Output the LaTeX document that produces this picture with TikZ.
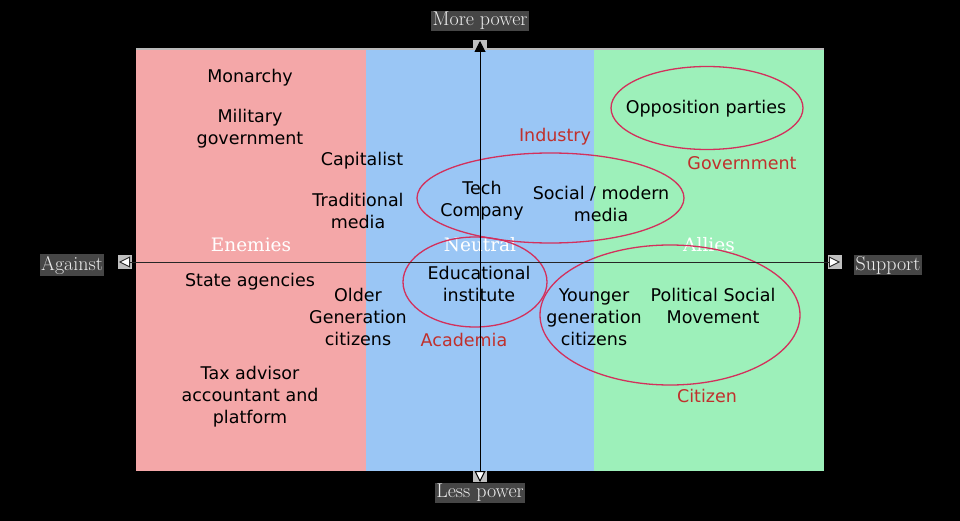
\documentclass[tikz,border=0pt]{standalone}
\usepackage{fontspec}
\newfontfamily\bodyfont{DejaVu Sans}
\newfontfamily\zonefont{DejaVu Serif}
\usetikzlibrary{arrows.meta,shapes.geometric}
\definecolor{pinkbg}{HTML}{F4A7A8}
\definecolor{bluebg}{HTML}{9AC6F5}
\definecolor{greenbg}{HTML}{9DF0BA}
\definecolor{ringc}{HTML}{D3305C}
\definecolor{grpc}{HTML}{C0302C}
\tikzset{
  lbl/.style={font=\bodyfont\fontsize{17.5}{22}\selectfont, align=center, text=black, inner sep=0pt, yshift=-2pt},
  grp/.style={font=\bodyfont\fontsize{17.5}{20}\selectfont, text=grpc, inner sep=0pt, yshift=-1pt},
  side/.style={font=\zonefont\fontsize{18.5}{20}\selectfont, text=white, inner sep=0pt},
  axlbl/.style={font=\rmfamily\fontsize{20}{22}\selectfont, text=gray!15, fill=gray!55!black, inner sep=1.5pt},
  ring/.style={draw=ringc, line width=1.3pt, ellipse, inner sep=0pt},
  tipw/.tip={Triangle[length=11pt,width=11pt,fill=white]},
  tipb/.tip={Triangle[length=11pt,width=11pt,fill=black]},
}
\begin{document}
\begin{tikzpicture}[x=1pt,y=-1pt]
\fill[black] (0,0) rectangle (960,521);
\useasboundingbox (0,0) rectangle (960,521);
\fill[pinkbg] (136,48) rectangle (366,471);
\fill[bluebg] (366,48) rectangle (594,471);
\fill[greenbg] (594,48) rectangle (824,471);
\fill[gray!55] (136,48) rectangle (824,50.5);
% zone labels
\node[side] (enemies) at (251,245) {Enemies};
\node[side] (neutral) at (480,245) {Neutral};
\node[side] (allies) at (709,245) {Allies};
% rings
\node[ring, minimum width=192pt, minimum height=83pt] (ropp) at (707,108) {};
\node[ring, minimum width=267pt, minimum height=90pt] (rind) at (550.5,198) {};
\node[ring, minimum width=144pt, minimum height=90pt] (racad) at (475,282) {};
\node[ring, minimum width=260pt, minimum height=140pt] (rcit) at (670,315) {};
% texts
\node[lbl] (monarchy) at (250,76) {Monarchy};
\node[lbl] (military) at (250,127) {Military\\government};
\node[lbl] (capitalist) at (362,159) {Capitalist};
\node[lbl] (tradmedia) at (358,209) {Traditional\\media};
\node[lbl] (state) at (250,280) {State agencies};
\node[lbl] (older) at (358,315) {Older\\Generation\\citizens};
\node[lbl] (tax) at (250,395) {Tax advisor\\accountant and\\platform};
\node[lbl] (tech) at (482,199) {Tech\\Company};
\node[lbl] (social) at (601,202) {Social / modern\\media};
\node[lbl] (edu) at (479,282) {Educational\\institute};
\node[lbl] (opp) at (706,107) {Opposition parties};
\node[lbl] (younger) at (594,315) {Younger\\generation\\citizens};
\node[lbl] (polsoc) at (713,304) {Political Social\\Movement};
% group labels
\node[grp] (industry) at (555,136) {Industry};
\node[grp] (government) at (742,162) {Government};
\node[grp] (academia) at (464,339) {Academia};
\node[grp] (citizen) at (707,395) {Citizen};
% axis labels
\node[axlbl] (more) at (480,21) {More power};
\node[axlbl] (less) at (480,493) {Less power};
\node[axlbl] (against) at (72,265) {Against};
\node[axlbl] (support) at (888,265) {Support};
% axes
\coordinate (top) at (480,41);
\coordinate (bot) at (480,482);
\coordinate (lft) at (119,262);
\coordinate (rgt) at (840,262);
\fill[gray!50] (118,255) rectangle (132,269);
\fill[gray!50] (828,255) rectangle (842,269);
\fill[gray!50] (473,40) rectangle (487,50);
\fill[gray!50] (473,471) rectangle (487,482);
\draw[gray!30!black, line width=0.9pt, tipw-tipw] (lft) -- (rgt);
\draw[black, line width=1pt, tipw-tipb] (bot) -- (top);
\end{tikzpicture}
\end{document}
